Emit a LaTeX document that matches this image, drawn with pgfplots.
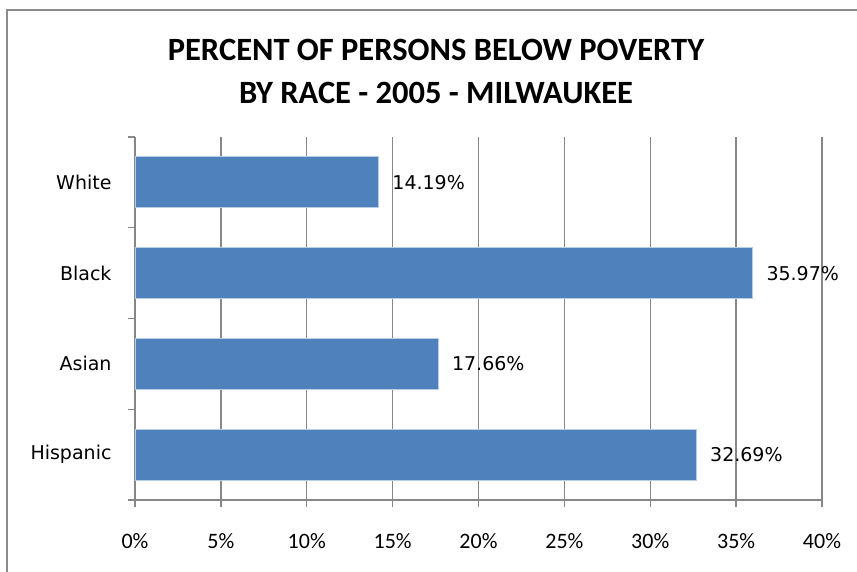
\documentclass[border=0pt]{standalone}
\usepackage{fontspec}
\setmainfont{DejaVu Sans}
\newfontfamily\carlito{Carlito}
\usepackage{pgfplots}
\pgfplotsset{compat=1.18}
\definecolor{barblue}{HTML}{4F81BD}
\definecolor{baredge}{HTML}{B9CDE5}
\definecolor{gridgray}{HTML}{878787}
\definecolor{framegray}{HTML}{8C8C8C}

\begin{document}
\begin{tikzpicture}
\useasboundingbox (0pt,0pt) rectangle (857pt,-571pt);
% chart frame (right and bottom edges fall outside the picture)
\draw[framegray, line width=1.3pt] (7pt,-900pt) -- (7pt,-10pt) -- (900pt,-10pt);
% title
\node[anchor=base, font=\carlito\bfseries\fontsize{32.5}{32.5}\selectfont] at (436pt,-60pt) {PERCENT OF PERSONS BELOW POVERTY};
\node[anchor=base, font=\carlito\bfseries\fontsize{32.5}{32.5}\selectfont] at (436pt,-103pt) {BY RACE - 2005 - MILWAUKEE};

\begin{axis}[
    scale only axis,
    width=687pt, height=363pt,
    at={(135pt,-500pt)}, anchor=south west,
    xbar,
    bar width=51pt,
    xmin=0, xmax=40,
    ymin=0.5, ymax=4.5,
    axis x line*=bottom,
    axis y line*=left,
    axis line style={gridgray, line width=1.3pt},
    xtick={0,5,...,40},
    xticklabel={\pgfmathprintnumber{\tick}\%},
    /pgf/number format/assume math mode=true,
    xticklabel style={font=\carlito\fontsize{22}{22}\selectfont, yshift=-23pt},
    ytick={0.5,1.5,...,4.5},
    yticklabels={},
    extra y ticks={1,2,3,4},
    extra y tick labels={Hispanic,Asian,Black,White},
    extra y tick style={major tick length=0pt, grid=none,
        yticklabel style={font=\fontsize{19}{19}\selectfont, xshift=-20pt}},
    tick align=outside,
    major tick length=7pt,
    tick style={gridgray, line width=1.3pt},
    xmajorgrids,
    major grid style={gridgray, line width=1.3pt},
    nodes near coords={\pgfmathprintnumber[fixed,precision=2,fixed zerofill]{\pgfplotspointmeta}\%},
    nodes near coords style={font=\fontsize{19}{19}\selectfont, anchor=west, xshift=10pt},
    point meta=x,
]
\addplot[fill=barblue, draw=baredge, line width=0.8pt] coordinates {
    (32.69,1) (17.66,2) (35.97,3) (14.19,4)
};
\end{axis}
\end{tikzpicture}
\end{document}
